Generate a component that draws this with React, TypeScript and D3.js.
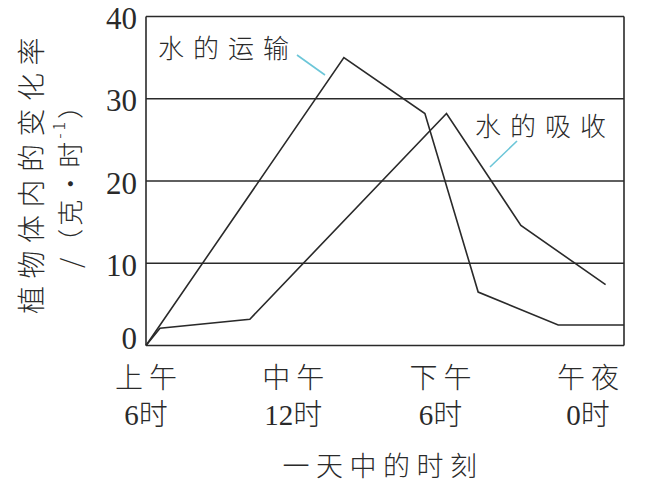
import React from "react";
import * as d3 from "d3";

const yTicks = [0, 10, 20, 30, 40];
const xTickHours = [6, 12, 18, 24];
const xTickLine1 = ["上午", "中午", "下午", "午夜"];
const xTickLine2 = ["6时", "12时", "6时", "0时"];

const transportHours = [6, 14.06, 17.36, 19.53, 22.79, 25.47];
const transportValues = [0, 35.0, 28.2, 6.5, 2.5, 2.5];
const absorptionHours = [6, 6.57, 10.23, 18.24, 21.27, 24.72];
const absorptionValues = [0, 2.1, 3.2, 28.2, 14.6, 7.4];

const seriesNames = ["水的运输", "水的吸收"];
const yTitle1 = "植物体内的变化率";
const xTitle = "一天中的时刻";

const W = 652;
const H = 483;
const serif = "'Liberation Serif', 'Noto Sans CJK SC', serif";
const cjk = "'Noto Sans CJK SC', sans-serif";

export default function App() {
  const x = d3.scaleLinear().domain([6, 25.47]).range([146, 624]);
  const y = d3.scaleLinear().domain([0, 40]).range([345.5, 16.5]);
  const line = d3
    .line<[number, number]>()
    .x((d) => x(d[0]))
    .y((d) => y(d[1]));
  const transport: [number, number][] = transportHours.map((h, i) => [h, transportValues[i]]);
  const absorption: [number, number][] = absorptionHours.map((h, i) => [h, absorptionValues[i]]);
  const [x0, x1] = x.range();
  const ink = "#2a2a2a";
  const leader = "#6cc6d8";

  return (
    <svg width={W} height={H} viewBox={`0 0 ${W} ${H}`} style={{ position: "absolute", left: 0, top: 0, background: "#fff" }}>
      <rect x={0} y={0} width={W} height={H} fill="#fff" />
      {/* grid lines */}
      {yTicks.map((t) => (
        <line key={t} x1={x0} x2={x1} y1={y(t)} y2={y(t)} stroke={ink} strokeWidth={1.6} />
      ))}
      <line x1={x0} x2={x0} y1={y(0)} y2={y(40)} stroke={ink} strokeWidth={1.6} />
      <line x1={x1} x2={x1} y1={y(0)} y2={y(40)} stroke={ink} strokeWidth={1.6} />

      {/* y tick labels */}
      {yTicks.map((t) => (
        <text key={t} x={137} y={y(t) + (t === 0 ? -7 : 2)} textAnchor="end" dominantBaseline="central"
          fontFamily={serif} fontSize={31} fill={ink}>
          {t}
        </text>
      ))}

      {/* series */}
      <path d={line(transport) || ""} fill="none" stroke={ink} strokeWidth={1.6} strokeLinejoin="miter" />
      <path d={line(absorption) || ""} fill="none" stroke={ink} strokeWidth={1.6} strokeLinejoin="miter" />

      {/* series labels */}
      <text x={158} y={46} dominantBaseline="central" fontFamily={cjk} fontWeight={300} fontSize={26} letterSpacing={9} fill={ink}>
        {seriesNames[0]}
      </text>
      <line x1={297} y1={55} x2={325} y2={75} stroke={leader} strokeWidth={1.6} />
      <text x={475} y={124} dominantBaseline="central" fontFamily={cjk} fontWeight={300} fontSize={26} letterSpacing={9} fill={ink}>
        {seriesNames[1]}
      </text>
      <line x1={517} y1={141} x2={490} y2={167} stroke={leader} strokeWidth={1.6} />

      {/* x tick labels */}
      {xTickHours.map((h, i) => (
        <g key={h}>
          <text x={x(h) + 3} y={376} textAnchor="middle" dominantBaseline="central" fontFamily={cjk} fontWeight={300}
            fontSize={28} letterSpacing={6} fill={ink}>
            {xTickLine1[i]}
          </text>
          <text x={x(h)} y={415} textAnchor="middle" dominantBaseline="central" fontFamily={serif} fontWeight={300}
            fontSize={29} fill={ink}>
            {xTickLine2[i]}
          </text>
        </g>
      ))}

      {/* x title */}
      <text x={383} y={464} textAnchor="middle" dominantBaseline="central" fontFamily={cjk} fontWeight={300}
        fontSize={27} letterSpacing={6.5} fill={ink}>
        {xTitle}
      </text>

      {/* y title */}
      <text transform="translate(30,172) rotate(-90)" textAnchor="middle" dominantBaseline="central" fontFamily={cjk}
        fontWeight={300} fontSize={28} letterSpacing={7.5} fill={ink}>
        {yTitle1}
      </text>
      <text transform="translate(68,179) rotate(-90)" textAnchor="middle" dominantBaseline="central" fontFamily={cjk}
        fontWeight={300} fontSize={26} letterSpacing={3} fill={ink}>
        <tspan>/（克·时</tspan>
        <tspan fontSize={16} dy={-10}>-1</tspan>
        <tspan dy={10}>）</tspan>
      </text>
    </svg>
  );
}
